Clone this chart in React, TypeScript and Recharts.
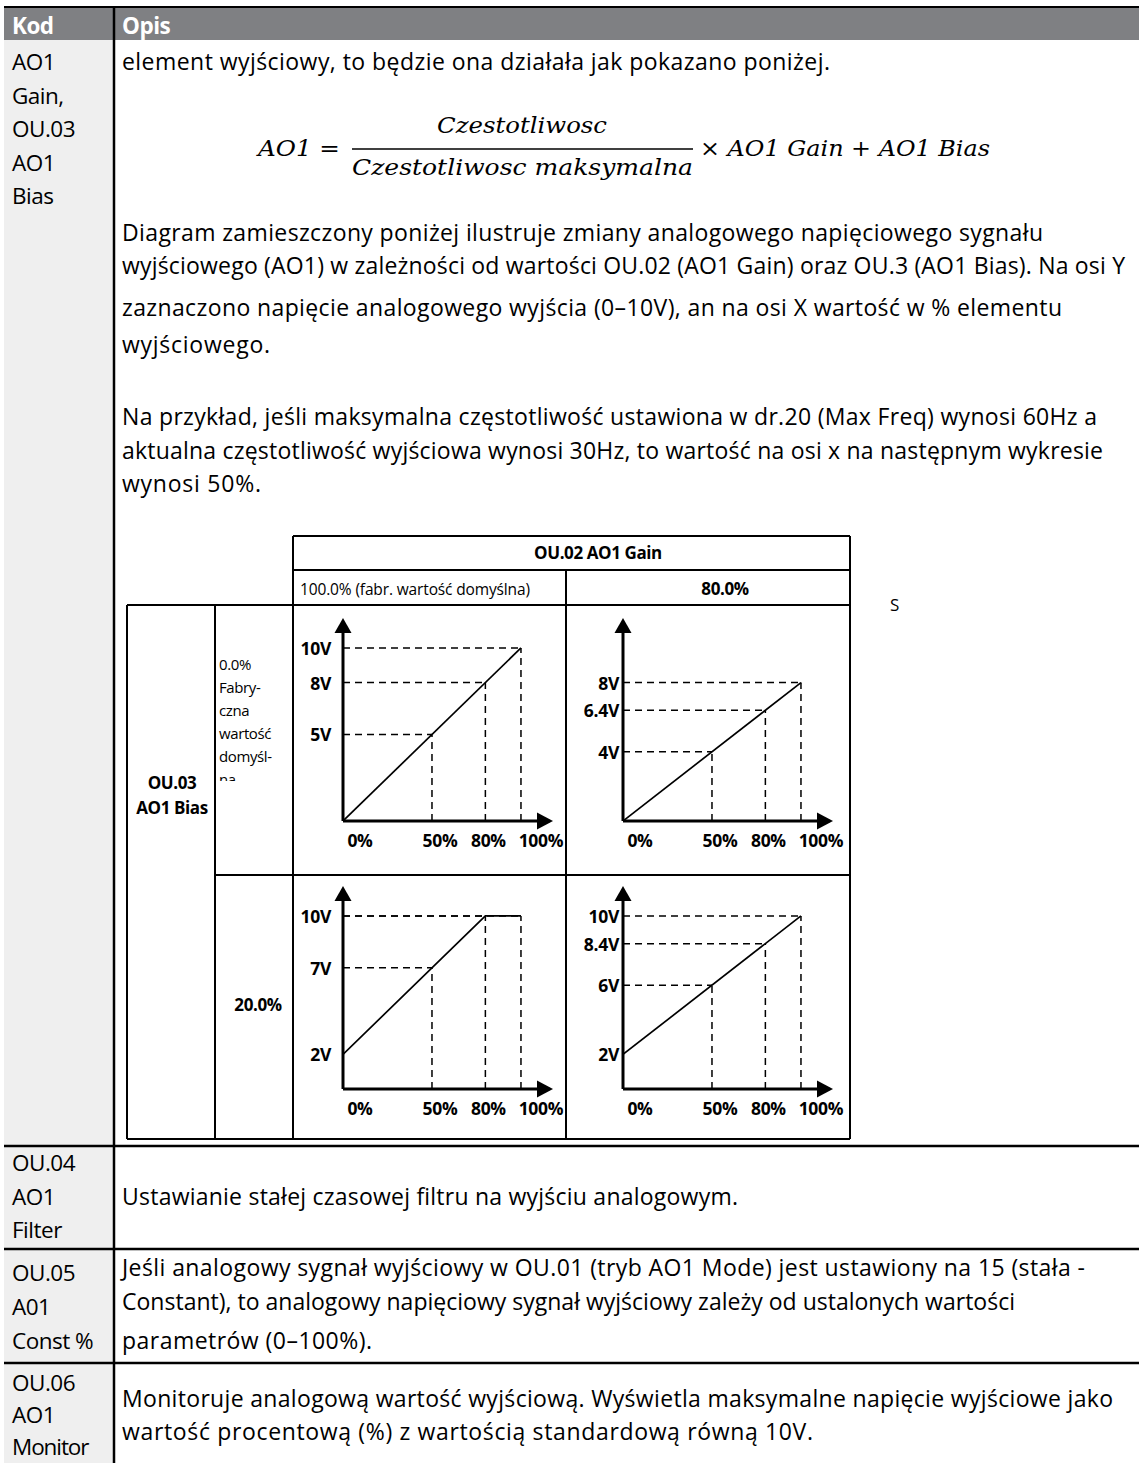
import React from 'react';
import { ComposedChart, Line, XAxis, YAxis, ReferenceLine, ReferenceDot } from 'recharts';

// ---- chart data ----
const xTicks = [0, 50, 80, 100];
const lineGain100Bias0 = [{ x: 0, y: 0 }, { x: 100, y: 10 }];
const lineGain80Bias0 = [{ x: 0, y: 0 }, { x: 100, y: 8 }];
const lineGain100Bias20 = [{ x: 0, y: 2 }, { x: 80, y: 10 }, { x: 100, y: 10 }];
const lineGain80Bias20 = [{ x: 0, y: 2 }, { x: 100, y: 10 }];
const yTicksA = [5, 8, 10];
const yTicksB = [4, 6.4, 8];
const yTicksC = [2, 7, 10];
const yTicksD = [2, 6, 8.4, 10];
const guidesA = [{ x: 50, y: 5 }, { x: 80, y: 8 }, { x: 100, y: 10 }];
const guidesB = [{ x: 50, y: 4 }, { x: 80, y: 6.4 }, { x: 100, y: 8 }];
const guidesC = [{ x: 50, y: 7 }, { x: 80, y: 10 }, { x: 100, y: 10 }];
const guidesD = [{ x: 50, y: 6 }, { x: 80, y: 8.4 }, { x: 100, y: 10 }];
const X_MAX = 118;
const Y_MAX = 11.73;

const BODY = "'Open Sans', Lato, sans-serif";
const MATH = "'DejaVu Serif', 'Liberation Serif', serif";
const PLOT_H = 203;
const xLabelShift: Record<number, number> = { 0: 17, 50: 8, 80: 3, 100: 20 };

const UpArrow = (p: any) => (
  <polygon points={`${p.cx},${p.cy} ${p.cx - 8.5},${p.cy + 15} ${p.cx + 8.5},${p.cy + 15}`} fill="#000" />
);
const RightArrow = (p: any) => (
  <polygon points={`${p.cx},${p.cy} ${p.cx - 16},${p.cy - 8.5} ${p.cx - 16},${p.cy + 8.5}`} fill="#000" />
);

function MiniChart(props: any) {
  const { left, top, width, height, yw, mt, mr, data, yTicks, guides, gap } = props;
  const xh = height - mt - PLOT_H;
  return (
    <div style={{ position: 'absolute', left, top, width, height }}>
      <ComposedChart width={width} height={height} data={data} margin={{ top: mt, right: mr, bottom: 0, left: 0 }}>
        <XAxis
          type="number"
          dataKey="x"
          domain={[0, X_MAX]}
          ticks={xTicks}
          interval={0}
          axisLine={false}
          tickLine={false}
          tickSize={0}
          tickMargin={0}
          height={xh}
          allowDataOverflow
          tick={(t: any) => (
            <text
              x={t.x + (xLabelShift[t.payload.value] ?? 0)}
              y={t.y + 19}
              textAnchor="middle"
              dominantBaseline="central"
              fontFamily={BODY}
              fontWeight={700}
              fontSize={17.5}
              letterSpacing={-0.3}
              fill="#000"
            >
              {`${t.payload.value}%`}
            </text>
          )}
        />
        <YAxis
          type="number"
          domain={[0, Y_MAX]}
          ticks={yTicks}
          interval={0}
          axisLine={false}
          tickLine={false}
          tickSize={0}
          tickMargin={0}
          width={yw}
          allowDataOverflow
          tick={(t: any) => (
            <text
              x={t.x - gap}
              y={t.y}
              textAnchor="end"
              dominantBaseline="central"
              fontFamily={BODY}
              fontWeight={700}
              fontSize={17.5}
              letterSpacing={-0.3}
              fill="#000"
            >
              {`${t.payload.value}V`}
            </text>
          )}
        />
        {guides.map((g: any, i: number) => (
          <ReferenceLine
            key={`h${i}`}
            segment={[{ x: 0, y: g.y }, { x: g.x, y: g.y }]}
            stroke="#000"
            strokeWidth={1.5}
            strokeDasharray="7 5"
          />
        ))}
        {guides.map((g: any, i: number) => (
          <ReferenceLine
            key={`v${i}`}
            segment={[{ x: g.x, y: 0 }, { x: g.x, y: g.y }]}
            stroke="#000"
            strokeWidth={1.5}
            strokeDasharray="7 5"
          />
        ))}
        <Line
          dataKey="y"
          type="linear"
          stroke="#000"
          strokeWidth={1.7}
          dot={false}
          activeDot={false}
          isAnimationActive={false}
        />
        <ReferenceLine segment={[{ x: 0, y: 0 }, { x: 0, y: Y_MAX - 0.3 }]} stroke="#000" strokeWidth={3} />
        <ReferenceLine segment={[{ x: 0, y: 0 }, { x: X_MAX - 2, y: 0 }]} stroke="#000" strokeWidth={3} />
        <ReferenceDot x={0} y={Y_MAX} r={1} shape={UpArrow} />
        <ReferenceDot x={X_MAX} y={0} r={1} shape={RightArrow} />
      </ComposedChart>
    </div>
  );
}

function T(props: any) {
  const { x, y, w, s = 23, b = false, f = BODY, c = '#000', a = 'start', it = false, ls, adj = 'spacing', children } = props;
  const extra: any = w ? { textLength: w, lengthAdjust: adj } : {};
  return (
    <text
      x={x}
      y={y}
      fontSize={s}
      fontWeight={b ? 700 : 400}
      fontFamily={f}
      fill={c}
      textAnchor={a}
      fontStyle={it ? 'italic' : 'normal'}
      letterSpacing={ls}
      {...extra}
    >
      {children}
    </text>
  );
}

function L(props: any) {
  return <T s={22.5} ls={-0.5} {...props} />;
}

export default function App() {
  return (
    <div style={{ position: 'absolute', left: 0, top: 0, width: 1139, height: 1463, background: '#fff', overflow: 'hidden' }}>
      <svg width={1139} height={1463} style={{ position: 'absolute', left: 0, top: 0 }}>
        <defs>
          <clipPath id="clipNa">
            <rect x={216} y={606} width={76} height={175} />
          </clipPath>
        </defs>
        {/* table frame */}
        <rect x={4} y={8} width={1135} height={32} fill="#7f8083" />
        <rect x={4} y={40} width={110} height={1423} fill="#efefef" />
        <line x1={4} x2={1139} y1={7} y2={7} stroke="#000" strokeWidth={2} />
        <line x1={114} x2={114} y1={6} y2={1463} stroke="#000" strokeWidth={2.5} />
        <line x1={4} x2={1139} y1={1146} y2={1146} stroke="#000" strokeWidth={2.5} />
        <line x1={4} x2={1139} y1={1249} y2={1249} stroke="#000" strokeWidth={2.5} />
        <line x1={4} x2={1139} y1={1363} y2={1363} stroke="#000" strokeWidth={2.5} />

        {/* diagram grid */}
        <path
          d="M293,536 H850 M293,570 H850 M127,605 H850 M215,875 H850 M127,1139 H850
             M127,605 V1139 M215,605 V1139 M293,536 V1139 M566,570 V1139 M850,536 V1139"
          stroke="#000"
          strokeWidth={2}
          fill="none"
        />

        {/* header */}
        <T x={12} y={34} b c="#fff" s={22.5} ls={-0.5}>Kod</T>
        <T x={122} y={34} b c="#fff" s={22.5} ls={-0.5}>Opis</T>

        {/* left column */}
        <L x={12} y={70}>AO1</L>
        <L x={12} y={104}>Gain,</L>
        <L x={12} y={137}>OU.03</L>
        <L x={12} y={171}>AO1</L>
        <L x={12} y={204}>Bias</L>
        <L x={12} y={1171}>OU.04</L>
        <L x={12} y={1205}>AO1</L>
        <L x={12} y={1238}>Filter</L>
        <L x={12} y={1281}>OU.05</L>
        <L x={12} y={1315}>A01</L>
        <L x={12} y={1349}>Const %</L>
        <L x={12} y={1391}>OU.06</L>
        <L x={12} y={1423}>AO1</L>
        <L x={12} y={1455} w={77}>Monitor</L>

        {/* body */}
        <T x={122} y={70} w={708}>{'element wyjściowy, to będzie ona działała jak pokazano poniżej.'}</T>

        {/* formula */}
        <T x={258} y={156} w={82} f={MATH} it s={23} adj="spacingAndGlyphs">
          {'AO1 '}
          <tspan fontStyle="normal">=</tspan>
        </T>
        <T x={437} y={133} w={170} f={MATH} it s={23} adj="spacingAndGlyphs">Czestotliwosc</T>
        <line x1={352} x2={693} y1={149} y2={149} stroke="#000" strokeWidth={1.6} />
        <T x={352} y={175} w={341} f={MATH} it s={23} adj="spacingAndGlyphs">{'Czestotliwosc maksymalna'}</T>
        <T x={700} y={156} w={290} f={MATH} it s={23} adj="spacingAndGlyphs">
          <tspan fontStyle="normal">×</tspan>
          {' AO1 Gain '}
          <tspan fontStyle="normal">+</tspan>
          {' AO1 Bias'}
        </T>

        <T x={122} y={241} w={921}>{'Diagram zamieszczony poniżej ilustruje zmiany analogowego napięciowego sygnału'}</T>
        <T x={122} y={274} w={1003}>{'wyjściowego (AO1) w zależności od wartości OU.02 (AO1 Gain) oraz OU.3 (AO1 Bias). Na osi Y'}</T>
        <T x={122} y={316} w={940}>{'zaznaczono napięcie analogowego wyjścia (0–10V), an na osi X wartość w % elementu'}</T>
        <T x={122} y={353} w={148}>{'wyjściowego.'}</T>
        <T x={122} y={425} w={975}>{'Na przykład, jeśli maksymalna częstotliwość ustawiona w dr.20 (Max Freq) wynosi 60Hz a'}</T>
        <T x={122} y={459} w={981}>{'aktualna częstotliwość wyjściowa wynosi 30Hz, to wartość na osi x na następnym wykresie'}</T>
        <T x={122} y={492} w={139}>{'wynosi 50%.'}</T>

        <T x={122} y={1205} w={616}>{'Ustawianie stałej czasowej filtru na wyjściu analogowym.'}</T>
        <T x={122} y={1276} w={963}>{'Jeśli analogowy sygnał wyjściowy w OU.01 (tryb AO1 Mode) jest ustawiony na 15 (stała -'}</T>
        <T x={122} y={1310} w={893}>{'Constant), to analogowy napięciowy sygnał wyjściowy zależy od ustalonych wartości'}</T>
        <T x={122} y={1349} w={250}>{'parametrów (0–100%).'}</T>
        <T x={122} y={1407} w={991}>{'Monitoruje analogową wartość wyjściową. Wyświetla maksymalne napięcie wyjściowe jako'}</T>
        <T x={122} y={1440} w={691}>{'wartość procentową (%) z wartością standardową równą 10V.'}</T>

        {/* diagram labels */}
        <T x={598} y={559} s={17} b a="middle" ls={-0.4}>{'OU.02 AO1 Gain'}</T>
        <T x={300} y={595} w={230} s={15.5}>{'100.0% (fabr. wartość domyślna)'}</T>
        <T x={725} y={595} s={17} b a="middle" ls={-0.4}>80.0%</T>
        <T x={172} y={789} s={17} b a="middle" ls={-0.4}>OU.03</T>
        <T x={172} y={814} s={17} b a="middle" ls={-0.4}>AO1 Bias</T>
        <g clipPath="url(#clipNa)">
          <T x={219} y={670} s={15} ls={-0.4}>0.0%</T>
          <T x={219} y={693} s={15} ls={-0.4}>Fabry-</T>
          <T x={219} y={716} s={15} ls={-0.4}>czna</T>
          <T x={219} y={739} s={15} ls={-0.4}>wartość</T>
          <T x={219} y={762} s={15} ls={-0.4}>domyśl-</T>
          <T x={219} y={785} s={15} ls={-0.4}>na</T>
        </g>
        <T x={258} y={1011} s={17} b a="middle" ls={-0.4}>20.0%</T>
        <T x={890} y={611} s={17}>S</T>
      </svg>

      <MiniChart left={293} top={605} width={273} height={270} yw={50} mt={13} mr={13}
        data={lineGain100Bias0} yTicks={yTicksA} guides={guidesA} gap={12} />
      <MiniChart left={566} top={605} width={284} height={270} yw={57} mt={13} mr={17}
        data={lineGain80Bias0} yTicks={yTicksB} guides={guidesB} gap={4} />
      <MiniChart left={293} top={875} width={273} height={263} yw={50} mt={11} mr={13}
        data={lineGain100Bias20} yTicks={yTicksC} guides={guidesC} gap={12} />
      <MiniChart left={566} top={875} width={284} height={263} yw={57} mt={11} mr={17}
        data={lineGain80Bias20} yTicks={yTicksD} guides={guidesD} gap={4} />
    </div>
  );
}
